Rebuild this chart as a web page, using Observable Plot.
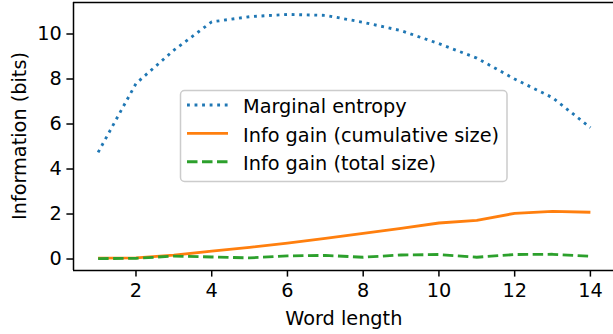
<!DOCTYPE html>
<html>
<head>
<meta charset="utf-8">
<script src="https://cdn.jsdelivr.net/npm/d3@7"></script>
<script src="https://cdn.jsdelivr.net/npm/@observablehq/plot@0.6"></script>
<style>
  html, body { margin: 0; padding: 0; background: #fff; }
  #chart svg { display: block; }
</style>
</head>
<body>
<div id="chart"></div>
<script>
const wordLength = [1, 2, 3, 4, 5, 6, 7, 8, 9, 10, 11, 12, 13, 14];
const marginalEntropy = [4.74, 7.8, 9.28, 10.54, 10.77, 10.87, 10.83, 10.52, 10.15, 9.57, 8.93, 8.0, 7.17, 5.84];
const gainCumulative = [0.04, 0.05, 0.17, 0.35, 0.52, 0.71, 0.92, 1.14, 1.36, 1.6, 1.72, 2.03, 2.12, 2.08];
const gainTotal = [0.02, 0.03, 0.13, 0.09, 0.05, 0.14, 0.16, 0.08, 0.18, 0.2, 0.08, 0.2, 0.21, 0.12];
const seriesNames = ["Marginal entropy", "Info gain (cumulative size)", "Info gain (total size)"];
const seriesColors = ["#1f77b4", "#ff7f0e", "#2ca02c"];
const seriesDash = ["2.85,4.7", null, "10.5,4.5"];
const xTicks = [2, 4, 6, 8, 10, 12, 14];
const yTicks = [0, 2, 4, 6, 8, 10];

const seriesValues = [marginalEntropy, gainCumulative, gainTotal];
const tables = seriesValues.map(vals => wordLength.map((x, i) => ({x, y: vals[i]})));

const W = 613, H = 334;
const mL = 73, mT = 2, mB = 64, mR = 0;
const xDomain = [0.35, 14.61];
const yDomain = [-0.51, 11.4];
const lw = 2.85;
const fs = 19.3;

const plot = Plot.plot({
  width: W, height: H,
  marginLeft: mL, marginTop: mT, marginBottom: mB, marginRight: mR,
  style: {fontFamily: "DejaVu Sans", fontSize: fs + "px", background: "#fff", color: "#000", overflow: "visible"},
  x: {domain: xDomain},
  y: {domain: yDomain},
  marks: [
    ...tables.map((t, i) => Plot.line(t, {
      x: "x", y: "y", stroke: seriesColors[i], strokeWidth: lw,
      strokeDasharray: seriesDash[i] || undefined, strokeLinecap: "butt", strokeLinejoin: "round"
    })),
    Plot.ruleY([yDomain[0]], {stroke: "#000", strokeWidth: 1.5}),
    Plot.ruleY([yDomain[1]], {stroke: "#000", strokeWidth: 1.5}),
    Plot.ruleX([xDomain[0]], {stroke: "#000", strokeWidth: 1.5}),
    Plot.axisX({ticks: xTicks, tickSize: 6.6, tickPadding: 6, strokeWidth: 1.5, label: null, fontSize: fs}),
    Plot.axisY({ticks: yTicks, tickSize: 6.6, tickPadding: 5, strokeWidth: 1.5, label: null, fontSize: fs})
  ]
});
document.getElementById("chart").appendChild(plot);

const svg = d3.select(plot);
const font = "DejaVu Sans";
// axis labels
svg.append("text").attr("x", (mL + 614.6) / 2).attr("y", 325).attr("text-anchor", "middle")
  .attr("font-family", font).attr("font-size", fs).attr("fill", "#000").text("Word length");
svg.append("text").attr("transform", `translate(25.5,${(mT + H - mB) / 2}) rotate(-90)`).attr("text-anchor", "middle")
  .attr("font-family", font).attr("font-size", fs).attr("fill", "#000").text("Information (bits)");

// legend
const lg = svg.append("g");
lg.append("rect").attr("x", 180.5).attr("y", 90.5).attr("width", 326.5).attr("height", 91)
  .attr("rx", 4).attr("fill", "#fff").attr("fill-opacity", 0.8).attr("stroke", "#cccccc").attr("stroke-width", 1.5);
const rowY = [105, 133.3, 161.7];
seriesNames.forEach((name, i) => {
  lg.append("line").attr("x1", 187).attr("x2", 228).attr("y1", rowY[i]).attr("y2", rowY[i])
    .attr("stroke", seriesColors[i]).attr("stroke-width", lw)
    .attr("stroke-dasharray", seriesDash[i] || null);
  lg.append("text").attr("x", 243).attr("y", rowY[i] + 8.3).attr("text-anchor", "start")
    .attr("font-family", font).attr("font-size", fs).attr("fill", "#000").text(name);
});
</script>
</body>
</html>
